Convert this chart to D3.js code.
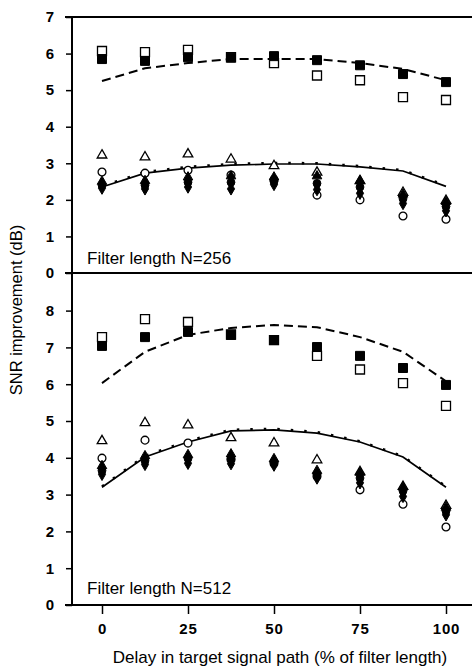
<!DOCTYPE html>
<html lang="en">
<head>
  <meta charset="UTF-8">
  <title>SNR improvement vs delay</title>
  <script src="https://d3js.org/d3.v7.min.js"></script>
  <style>
    body { margin: 0; background: white; }
    svg { font-family: Arial, "Liberation Sans", sans-serif; display: block; }
    .tick-lbl { font-size: 15px; font-weight: bold; letter-spacing: 0.8px; }
    .title { font-size: 17px; }
  </style>
</head>
<body>
  <svg></svg>
  <script>
    const delays = [0, 12.5, 25, 37.5, 50, 62.5, 75, 87.5, 100];
    const xTicks = [0, 25, 50, 75, 100];
    const yTicks256 = [0, 1, 2, 3, 4, 5, 6, 7];
    const yTicks512 = [0, 1, 2, 3, 4, 5, 6, 7, 8];

    // N = 256
    const openSq256   = [6.07, 6.04, 6.10, 5.90, 5.74, 5.40, 5.27, 4.81, 4.73];
    const fillSq256   = [5.85, 5.80, 5.90, 5.89, 5.93, 5.82, 5.68, 5.44, 5.22];
    const dash256     = [5.25, 5.60, 5.74, 5.85, 5.85, 5.85, 5.74, 5.58, 5.27];
    const openTri256  = [3.22, 3.17, 3.25, 3.11, 2.93, 2.75, 2.52, 2.20, 1.98];
    const openCirc256 = [2.76, 2.73, 2.81, 2.68, 2.55, 2.13, 2.00, 1.56, 1.47];
    const fillTri256  = [2.50, 2.52, 2.62, 2.65, 2.62, 2.65, 2.52, 2.15, 1.95];
    const fillCirc256 = [2.40, 2.40, 2.48, 2.48, 2.50, 2.45, 2.35, 2.03, 1.82];
    const fillDia256  = [2.32, 2.30, 2.35, 2.30, 2.42, 2.28, 2.18, 1.90, 1.70];
    const solid256    = [2.35, 2.73, 2.87, 2.95, 2.98, 2.98, 2.90, 2.79, 2.37];
    const dotted256   = [2.37, 2.76, 2.90, 2.98, 3.01, 3.00, 2.92, 2.81, 2.39];

    // N = 512
    const openSq512   = [7.28, 7.77, 7.69, 7.35, 7.20, 6.77, 6.40, 6.03, 5.41];
    const fillSq512   = [7.04, 7.28, 7.42, 7.34, 7.20, 7.01, 6.77, 6.44, 5.98];
    const dash512     = [6.03, 6.88, 7.34, 7.53, 7.61, 7.55, 7.28, 6.88, 6.08];
    const openTri512  = [4.46, 4.95, 4.89, 4.54, 4.40, 3.94, 3.62, 3.22, 2.70];
    const openCirc512 = [3.99, 4.48, 4.40, 3.95, 3.85, 3.50, 3.13, 2.74, 2.12];
    const fillTri512  = [3.78, 4.05, 4.08, 4.10, 3.97, 3.65, 3.60, 3.20, 2.65];
    const fillCirc512 = [3.65, 3.92, 3.98, 3.97, 3.88, 3.55, 3.45, 3.10, 2.55];
    const fillDia512  = [3.55, 3.82, 3.85, 3.84, 3.80, 3.45, 3.32, 2.95, 2.45];
    const solid512    = [3.20, 4.02, 4.43, 4.73, 4.76, 4.67, 4.43, 4.02, 3.20];
    const dotted512   = [3.22, 4.05, 4.46, 4.76, 4.79, 4.70, 4.45, 4.04, 3.22];

    const W = 472, H = 668;
    const axisX = 72, rightX = 472;
    const svg = d3.select('svg').attr('width', W).attr('height', H);

    const x = d3.scaleLinear().domain([0, 100]).range([102, 446]);
    const yTop = d3.scaleLinear().domain([0, 7]).range([273, 17]);
    const yBot = d3.scaleLinear().domain([0, 8]).range([605, 310.6]);

    const panels = [
      { y: yTop, ticks: yTicks256, label: 'Filter length N=256', labelY: 264,
        openSq: openSq256, fillSq: fillSq256, dash: dash256, openTri: openTri256, openCirc: openCirc256,
        fillTri: fillTri256, fillCirc: fillCirc256, fillDia: fillDia256, solid: solid256, dotted: dotted256 },
      { y: yBot, ticks: yTicks512, label: 'Filter length N=512', labelY: 594,
        openSq: openSq512, fillSq: fillSq512, dash: dash512, openTri: openTri512, openCirc: openCirc512,
        fillTri: fillTri512, fillCirc: fillCirc512, fillDia: fillDia512, solid: solid512, dotted: dotted512 }
    ];

    const sym = {
      square: d3.symbol().type(d3.symbolSquare).size(81),
      tri: d3.symbol().type(d3.symbolTriangle).size(40),
      circ: d3.symbol().type(d3.symbolCircle).size(48),
      dia: d3.symbol().type(d3.symbolDiamond).size(44)
    };

    panels.forEach(p => {
      const g = svg.append('g');
      // y axis ticks
      const ax = g.append('g')
        .attr('transform', `translate(${axisX},0)`)
        .call(d3.axisLeft(p.y).tickValues(p.ticks).tickSize(6).tickPadding(11).tickFormat(d3.format('d')));
      ax.select('.domain').remove();
      ax.selectAll('line').attr('stroke-width', 1.5);
      ax.selectAll('text').attr('class', 'tick-lbl').attr('fill', '#000');

      const line = vals => d3.line().x((d, i) => x(delays[i])).y(d => p.y(d))(vals);

      g.append('path').attr('d', line(p.dash)).attr('fill', 'none')
        .attr('stroke', '#000').attr('stroke-width', 2).attr('stroke-dasharray', '9,5');
      g.append('path').attr('d', line(p.solid)).attr('fill', 'none')
        .attr('stroke', '#000').attr('stroke-width', 1.7);
      g.append('path').attr('d', line(p.dotted)).attr('fill', 'none')
        .attr('stroke', '#000').attr('stroke-width', 2.6).attr('stroke-dasharray', '2.5,11');

      const draw = (vals, s, filled) => {
        g.selectAll(null).data(vals).enter().append('path')
          .attr('d', s)
          .attr('transform', (d, i) => `translate(${x(delays[i])},${p.y(d)})`)
          .attr('fill', filled ? '#000' : '#fff')
          .attr('stroke', '#000').attr('stroke-width', filled ? 1 : 1.3);
      };
      draw(p.openSq, sym.square, false);
      draw(p.openCirc, sym.circ, false);
      draw(p.openTri, sym.tri, false);
      draw(p.fillDia, sym.dia, true);
      draw(p.fillCirc, sym.circ, true);
      draw(p.fillTri, sym.tri, true);
      draw(p.fillSq, sym.square, true);

      g.append('text').attr('class', 'title').attr('x', 87).attr('y', p.labelY).text(p.label);
    });

    // frame lines
    svg.append('line').attr('x1', axisX).attr('x2', axisX).attr('y1', 17).attr('y2', 605)
      .attr('stroke', '#000').attr('stroke-width', 2);
    [17, 273, 605].forEach(yy => {
      svg.append('line').attr('x1', 65).attr('x2', rightX).attr('y1', yy).attr('y2', yy)
        .attr('stroke', '#000').attr('stroke-width', 2);
    });

    // x axis
    const xa = svg.append('g').attr('transform', 'translate(0,605)')
      .call(d3.axisBottom(x).tickValues(xTicks).tickSizeInner(9).tickSizeOuter(0).tickPadding(9));
    xa.select('.domain').remove();
    xa.selectAll('line').attr('stroke-width', 1.5);
    xa.selectAll('text').attr('class', 'tick-lbl').attr('fill', '#000');

    svg.append('text').attr('class', 'title').attr('x', 280).attr('y', 663)
      .attr('text-anchor', 'middle').text('Delay in target signal path (% of filter length)');
    svg.append('text').attr('class', 'title').style('font-size', '16.5px')
      .attr('transform', 'translate(22,310) rotate(-90)')
      .attr('text-anchor', 'middle').text('SNR improvement (dB)');
  </script>
</body>
</html>
